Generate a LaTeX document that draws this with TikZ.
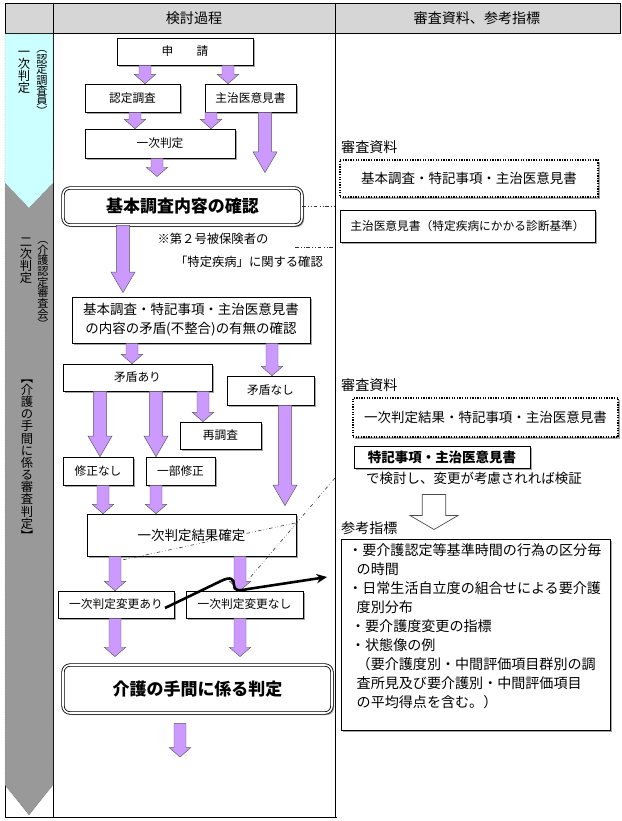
\documentclass[tikz,border=0pt]{standalone}
\usepackage{fontspec}
\setmainfont{Noto Sans CJK JP}
\usetikzlibrary{calc, shadows, arrows.meta}

\definecolor{arrowfill}{RGB}{204,153,255}
\definecolor{arrowline}{RGB}{90,90,90}
\definecolor{bandcyan}{RGB}{204,255,255}
\definecolor{bandgray}{RGB}{153,153,153}
\definecolor{headgray}{RGB}{214,214,214}

\newcommand{\tightlines}{\lineskiplimit=-20pt\relax}

% block arrow: style, shaft half width, head half width, head length, from, to
\newcommand{\flowarrow}[6][purplearrow]{%
  \filldraw[#1] let \p1=#5, \p2=#6 in
    (\x1-#2,\y1) -- (\x1+#2,\y1) -- (\x1+#2,\y2+#4) -- (\x1+#3,\y2+#4)
    -- (\x1,\y2) -- (\x1-#3,\y2+#4) -- (\x1-#2,\y2+#4) -- cycle;}
\newcommand{\smallarrow}[2]{\flowarrow{0.18cm}{0.32cm}{0.28cm}{#1}{#2}}
\newcommand{\bigarrow}[2]{\flowarrow{0.2cm}{0.36cm}{0.62cm}{#1}{#2}}

\tikzset{
  flowbox/.style={draw, fill=white, line width=0.5pt, inner sep=0pt, align=center,
    font=\fontsize{10}{12}\selectfont,
    drop shadow={shadow xshift=0.06cm, shadow yshift=-0.06cm, fill=gray!70, opacity=1}},
  widebox/.style={flowbox, font=\fontsize{11.5}{16.2}\selectfont},
  keybox/.style={flowbox, rounded corners=6pt, double=white, double distance=1.4pt,
    line width=0.7pt, font=\fontsize{14.5}{17}\selectfont\bfseries},
  dotbox/.style={widebox, line width=1.1pt, dash pattern=on 1.1pt off 1.1pt},
  boxsize/.style 2 args={minimum width=#1*0.03cm, minimum height=#2*0.03cm},
  purplearrow/.style={fill=arrowfill, draw=arrowline, line width=0.4pt},
  hollowarrow/.style={fill=white, draw=black!70, line width=0.6pt},
  linkline/.style={dash dot dot, line width=0.5pt, black!80},
  labeltext/.style={anchor=west, inner sep=0pt, font=\fontsize{12}{14}\selectfont},
  headtext/.style={font=\fontsize{12}{14}\selectfont},
  notetext/.style={inner sep=0pt, font=\fontsize{10.5}{12}\selectfont},
  tatetext/.style={align=center, inner sep=0pt},
}

\begin{document}
\begin{tikzpicture}[x=0.03cm, y=-0.03cm]
  \useasboundingbox (0,0) rectangle (621,821);

  % Table frame
  \fill[headgray] (5,3) rectangle (620,33);
  \draw[line width=0.6pt] (5,3) rectangle (620,33);
  \draw[line width=0.6pt] (53,3) -- (53,817) (335,3) -- (335,817) (5,33) -- (5,817) -- (337,817);
  \node[headtext] (kentohead) at (194,18) {検討過程};
  \node[headtext] (shiryohead) at (477,18) {審査資料、参考指標};

  % Stage band
  \filldraw[fill=bandgray, draw=gray!70!black, densely dotted] (5,170) -- (53,170) -- (53,785) -- (29,815) -- (5,785) -- cycle;
  \filldraw[fill=bandcyan, draw=gray!70!black, densely dotted] (5,34) -- (53,34) -- (53,183) -- (29,208) -- (5,183) -- cycle;
  \node[tatetext, font=\fontsize{10.5}{10.2}\selectfont\tightlines] (ichijiband) at (24,72) {一\\次\\判\\定};
  \node[tatetext, font=\fontsize{9.5}{8.9}\selectfont\tightlines] (chosainband) at (42,83) {︵\\認\\定\\調\\査\\員\\︶};
  \node[tatetext, font=\fontsize{10.5}{10.2}\selectfont\tightlines] (nijiband) at (26,261) {二\\次\\判\\定};
  \node[tatetext, font=\fontsize{9.5}{9.1}\selectfont\tightlines] (shinsakaiband) at (43,285) {︵\\介\\護\\認\\定\\審\\査\\会\\︶};
  \node[tatetext, font=\fontsize{10.5}{10.4}\selectfont\tightlines] (temaband) at (27,460) {︻\\介\\護\\の\\手\\間\\に\\係\\る\\審\\査\\判\\定\\︼};

  % Flow boxes
  \node[flowbox, boxsize={136}{27}] (shinsei) at (185,51.5) {申\hspace{2em}請};
  \node[flowbox, boxsize={95}{28}] (nintei) at (132.5,98) {認定調査};
  \node[flowbox, boxsize={91}{28}] (ikensho) at (250.5,98) {主治医意見書};
  \node[flowbox, boxsize={150}{29}] (ichiji) at (160,143.5) {一次判定};
  \node[keybox, boxsize={239}{37}] (kihon) at (182.5,206.5) {基本調査内容の確認};
  \node[notetext] (noteA) at (213,239) {※第２号被保険者の};
  \node[notetext] (noteB) at (249,262) {「特定疾病」に関する確認};
  \node[widebox, boxsize={238}{46}] (mujuncheck) at (191,320) {基本調査・特記事項・主治医意見書\\の内容の矛盾(不整合)の有無の確認};
  \node[flowbox, boxsize={149}{27}] (ari) at (137.5,377.5) {矛盾あり};
  \node[flowbox, boxsize={87}{29}] (nashi) at (270.5,390.5) {矛盾なし};
  \node[flowbox, boxsize={81}{27}] (saichosa) at (220.5,435.5) {再調査};
  \node[flowbox, boxsize={70}{28}] (shuseinashi) at (98,471) {修正なし};
  \node[flowbox, boxsize={69}{28}] (ichibu) at (180.5,471) {一部修正};
  \node[widebox, boxsize={209}{42}] (kakutei) at (191.5,535) {一次判定結果確定};
  \node[flowbox, boxsize={116}{27}] (henkoari) at (116,604.5) {一次判定変更あり};
  \node[flowbox, boxsize={117}{27}] (henkonashi) at (244.5,604.5) {一次判定変更なし};
  \node[keybox, boxsize={269}{48}] (handan) at (197.5,689) {介護の手間に係る判定};
  \coordinate (flowend) at (180,757);

  % Flow arrows
  \smallarrow{($(shinsei.south)+(-40,0)$)}{(nintei.north)}
  \smallarrow{($(shinsei.south)+(43,0)$)}{(ikensho.north)}
  \smallarrow{($(nintei.south)+(2.5,0)$)}{(ichiji.north)}
  \smallarrow{($(ikensho.south)+(-39.5,0)$)}{(ichiji.north)}
  \bigarrow{($(ikensho.south)+(14.5,0)$)}{($(kihon.north)+(0,-15)$)}
  \smallarrow{($(ichiji.south)+(-3,0)$)}{($(kihon.north)+(0,-11)$)}
  \bigarrow{($(kihon.south)+(-59.5,0)$)}{($(mujuncheck.north)+(0,-4)$)}
  \smallarrow{($(mujuncheck.south)+(-59,0)$)}{(ari.north)}
  \smallarrow{($(mujuncheck.south)+(81,0)$)}{(nashi.north)}
  \bigarrow{($(ari.south)+(-37.5,0)$)}{(shuseinashi.north)}
  \bigarrow{($(ari.south)+(18.5,0)$)}{(ichibu.north)}
  \smallarrow{($(ari.south)+(65.5,0)$)}{(saichosa.north)}
  \bigarrow{($(nashi.south)+(14.5,0)$)}{($(kakutei.north)+(0,-8)$)}
  \smallarrow{($(shuseinashi.south)+(5,0)$)}{(kakutei.north)}
  \smallarrow{($(ichibu.south)+(-24.5,0)$)}{(kakutei.north)}
  \smallarrow{($(kakutei.south)+(-76.5,0)$)}{(henkoari.north)}
  \smallarrow{($(kakutei.south)+(48.5,0)$)}{(henkonashi.north)}
  \smallarrow{($(henkoari.south)+(-1,0)$)}{($(handan.north)+(0,-8)$)}
  \smallarrow{($(henkonashi.south)+(-4.5,0)$)}{($(handan.north)+(0,-8)$)}
  \smallarrow{($(handan.south)+(-17.5,10)$)}{(flowend)}

  % Review materials
  \node[labeltext] (shiryoA) at (341,147) {審査資料};
  \node[dotbox, boxsize={258}{37}] (kihonshiryo) at (469,178.5) {基本調査・特記事項・主治医意見書};
  \node[flowbox, boxsize={255}{32}] (tokuteishiryo) at (467.5,226) {主治医意見書（特定疾病にかかる診断基準）};
  \node[labeltext] (shiryoB) at (341,385) {審査資料};
  \node[dotbox, boxsize={265}{39}] (ichijishiryo) at (485.5,417.5) {一次判定結果・特記事項・主治医意見書};
  \node[flowbox, boxsize={176}{22}, font=\fontsize{11.5}{14}\selectfont\bfseries] (tokkibox) at (442,457) {特記事項・主治医意見書};
  \node[notetext, font=\fontsize{11.5}{14}\selectfont] (kentotext) at (474,478) {で検討し、変更が考慮されれば検証};
  \flowarrow[hollowarrow]{0.35cm}{0.72cm}{0.42cm}{($(kentotext.south)+(-40,10)$)}{($(kentotext.south)+(-40,45)$)}
  \node[labeltext] (sankolabel) at (341,528) {参考指標};
  \node[flowbox, anchor=north west, boxsize={269}{191}, inner xsep=0.2cm, inner ysep=0.12cm,
    align=left, font=\fontsize{12}{16.2}\selectfont] (sanko) at (341,539)
    {\parbox[t][5.45cm][t]{7.65cm}{%
      ・要介護認定等基準時間の行為の区分毎\\
      \hspace*{0.6em}の時間\\
      ・日常生活自立度の組合せによる要介護\\
      \hspace*{0.6em}度別分布\\
      \hspace*{0.2em}・要介護度変更の指標\\
      \hspace*{0.2em}・状態像の例\\
      \hspace*{0.6em}（要介護度別・中間評価項目群別の調\\
      \hspace*{0.6em}査所見及び要介護別・中間評価項目\\
      \hspace*{0.6em}の平均得点を含む。）}};

  % Link lines
  \coordinate (colline) at (335,0);
  \draw[linkline] (kihon.east) -- (kihon.east -| colline);
  \coordinate (tokuteilink) at (295,247);
  \draw[linkline] (tokuteilink) -- (tokuteilink -| colline);
  \coordinate (kenshopt) at (335,478);
  \coordinate (henkojoin) at (295,523);
  \coordinate (arilink) at (122,560);
  \coordinate (nashilink) at (248,580);
  \draw[linkline] (kenshopt) -- (nashilink);
  \draw[linkline] (henkojoin) -- (arilink);

  % Review arrow
  \coordinate (wavestart) at (165,608);
  \coordinate (waveend) at (327,577);
  \draw[line width=2.2pt, -{Stealth[length=9pt,width=8pt]}] (wavestart) -- (221,581)
    .. controls (231,576) and (234,579) .. (234,585)
    .. controls (234,591) and (238,591) .. (248,589) -- (waveend);
\end{tikzpicture}
\end{document}
